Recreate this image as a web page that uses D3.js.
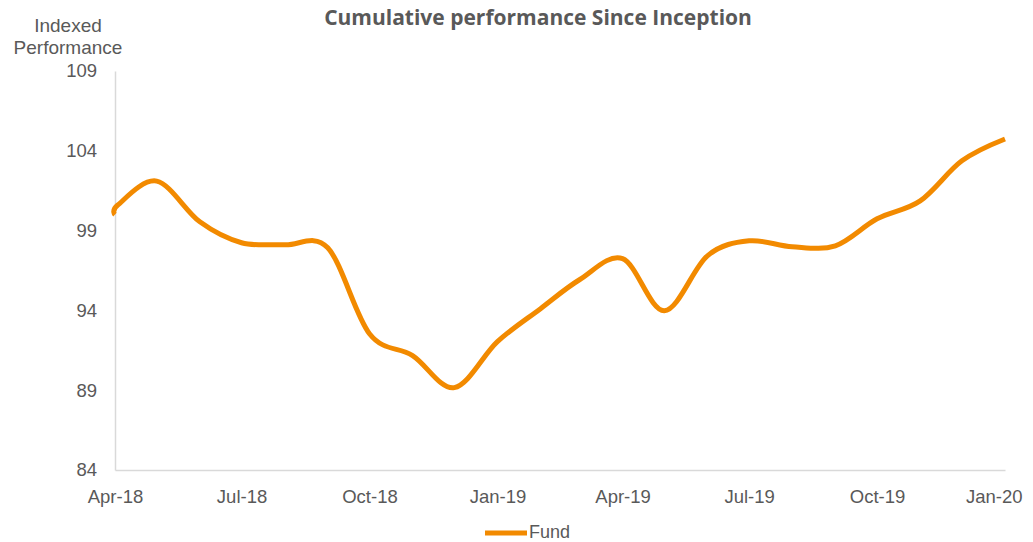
<!DOCTYPE html>
<html>
<head>
<meta charset="utf-8">
<script src="https://cdn.jsdelivr.net/npm/d3@7"></script>
<style>
  body { margin: 0; background: #fff; }
  text { font-family: "Liberation Sans", Arial, sans-serif; }
</style>
</head>
<body>
<div class="canvas"></div>
<script>
// data
const dates = [
    '2018-04-01', '2018-04-03', '2018-05-01', '2018-06-01', '2018-07-01', '2018-08-01',
    '2018-09-01', '2018-10-01', '2018-11-01', '2018-12-01', '2019-01-01', '2019-02-01',
    '2019-03-01', '2019-04-01', '2019-05-01', '2019-06-01', '2019-07-01', '2019-08-01',
    '2019-09-01', '2019-10-01', '2019-11-01', '2019-12-01', '2020-01-01'
];
const fund = [
    100.0, 100.6, 102.1, 99.55, 98.24, 98.11,
    97.92, 92.54, 91.17, 89.16, 92.04, 94.11,
    95.92, 97.24, 93.98, 97.42, 98.36, 97.99,
    98.05, 99.74, 100.86, 103.37, 104.74
];
const yTicks = [84, 89, 94, 99, 104, 109];
const xTickDates = ['2018-04-01', '2018-07-01', '2018-10-01', '2019-01-01', '2019-04-01', '2019-07-01', '2019-10-01', '2020-01-01'];
const xTickLabels = ['Apr-18', 'Jul-18', 'Oct-18', 'Jan-19', 'Apr-19', 'Jul-19', 'Oct-19', 'Jan-20'];

const dims = { width: 1033, height: 542 };
const plot = { left: 115, right: 1005, top: 71, bottom: 470 };
const grey = '#595959';
const orange = '#f28a00';

const parse = d3.utcParse('%Y-%m-%d');
const points = dates.map((d, i) => ({ date: parse(d), value: fund[i] }));

const svg = d3.select('.canvas')
    .append('svg')
    .attr('width', dims.width)
    .attr('height', dims.height)
;

const x = d3.scaleUtc()
    .domain([parse('2018-04-01'), parse('2020-01-01')])
    .range([plot.left, plot.right])
;

const y = d3.scaleLinear()
    .domain([84, 109])
    .range([plot.bottom, plot.top])
;

// title
svg.append('text')
    .attr('x', 538)
    .attr('y', 25)
    .attr('text-anchor', 'middle')
    .style('font-family', '"Open Sans", sans-serif')
    .attr('font-size', 21)
    .attr('font-weight', 700)
    .attr('fill', grey)
    .text('Cumulative performance Since Inception')
;

// y axis title
const yTitle = svg.append('text')
    .attr('text-anchor', 'middle')
    .attr('font-size', 19)
    .attr('fill', grey)
;
yTitle.append('tspan').attr('x', 68).attr('y', 32).text('Indexed');
yTitle.append('tspan').attr('x', 68).attr('y', 54).text('Performance');

// axes
const xAxis = d3.axisBottom(x)
    .tickValues(xTickDates.map(parse))
    .tickFormat((d, i) => xTickLabels[i])
    .tickSize(0)
    .tickPadding(20)
;

const yAxis = d3.axisLeft(y)
    .tickValues(yTicks)
    .tickSize(0)
    .tickPadding(18)
;

const gx = svg.append('g')
    .attr('transform', `translate(0, ${plot.bottom})`)
    .call(xAxis)
;

const gy = svg.append('g')
    .attr('transform', `translate(${plot.left}, 0)`)
    .call(yAxis)
;

[gx, gy].forEach(g => {
    g.select('.domain').attr('stroke', '#d9d9d9').attr('stroke-width', 1.5);
    g.selectAll('text')
        .attr('font-size', 18.5)
        .attr('fill', grey)
    ;
});

// last label kept inside the chart edge
gx.selectAll('.tick:last-of-type text')
    .attr('text-anchor', 'end')
    .attr('x', 17)
;

// fund line
const line = d3.line()
    .x(d => x(d.date))
    .y(d => y(d.value))
    .curve(d3.curveCardinal.tension(0))
;

svg.append('path')
    .datum(points)
    .attr('d', line)
    .attr('fill', 'none')
    .attr('stroke', orange)
    .attr('stroke-width', 5)
    .attr('stroke-linejoin', 'round')
;

// legend
svg.append('line')
    .attr('x1', 485)
    .attr('x2', 527)
    .attr('y1', 533)
    .attr('y2', 533)
    .attr('stroke', orange)
    .attr('stroke-width', 5)
;

svg.append('text')
    .attr('x', 529)
    .attr('y', 538)
    .attr('font-size', 18)
    .attr('fill', grey)
    .text('Fund')
;
</script>
</body>
</html>
